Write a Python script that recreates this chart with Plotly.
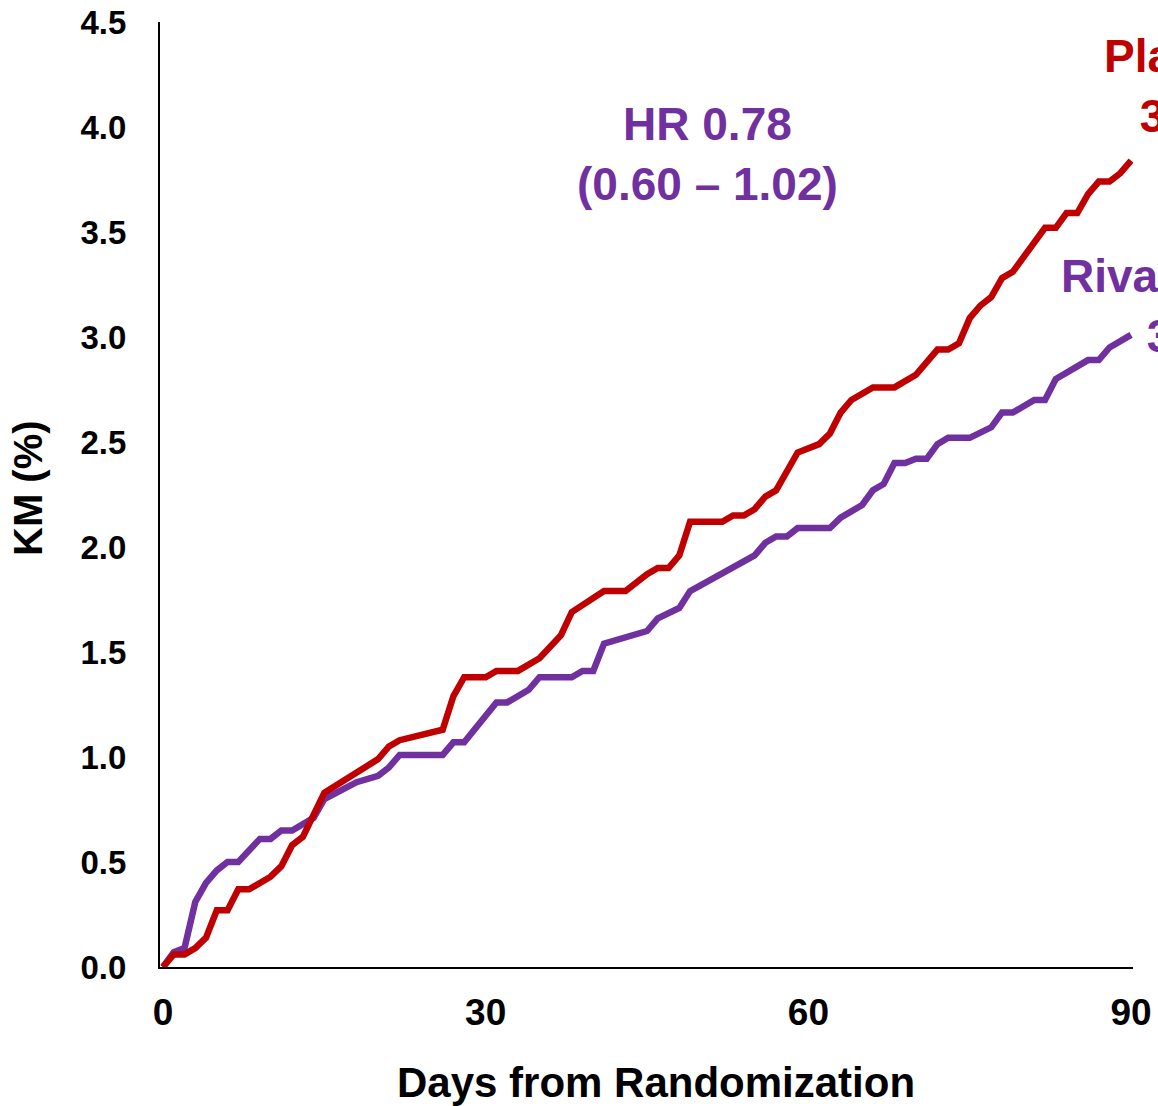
import plotly.graph_objects as go

# Kaplan-Meier curves (days from randomization, KM %)
placebo_days = [0, 1, 2, 3, 4, 5, 6, 7, 8, 10, 11, 12, 13, 15, 20, 21, 22, 26, 27, 28, 30, 31, 33,
                35, 37, 38, 41, 43, 45, 46, 47, 48, 49, 52, 53, 54, 55, 56, 57, 59, 61, 62, 63, 64,
                66, 68, 70, 72, 73, 74, 75, 76, 77, 78, 79, 80, 81, 82, 83, 84, 85, 86, 87, 88, 89, 90]
placebo_km = [0.0, 0.06, 0.06, 0.09, 0.14, 0.27, 0.27, 0.37, 0.37, 0.43, 0.48, 0.58, 0.62, 0.83,
              0.99, 1.05, 1.08, 1.13, 1.29, 1.38, 1.38, 1.41, 1.41, 1.47, 1.58, 1.69, 1.79, 1.79,
              1.87, 1.90, 1.90, 1.96, 2.12, 2.12, 2.15, 2.15, 2.18, 2.24, 2.27, 2.45, 2.49, 2.54,
              2.64, 2.70, 2.76, 2.76, 2.82, 2.94, 2.94, 2.97, 3.09, 3.15, 3.19, 3.28, 3.31, 3.38,
              3.46, 3.52, 3.52, 3.59, 3.59, 3.68, 3.74, 3.74, 3.78, 3.84]

riva_days = [0, 1, 2, 3, 4, 5, 6, 7, 9, 10, 11, 12, 14, 15, 18, 20, 21, 22, 26, 27, 28, 31, 32, 34,
             35, 38, 39, 40, 41, 45, 46, 48, 49, 55, 56, 57, 58, 59, 62, 63, 65, 66, 67, 68, 69, 70,
             71, 72, 73, 75, 77, 78, 79, 81, 82, 83, 86, 87, 88, 90]
riva_km = [0.0, 0.07, 0.09, 0.31, 0.40, 0.46, 0.50, 0.50, 0.61, 0.61, 0.65, 0.65, 0.71, 0.80, 0.88,
           0.91, 0.95, 1.01, 1.01, 1.07, 1.07, 1.26, 1.26, 1.32, 1.38, 1.38, 1.41, 1.41, 1.54, 1.60,
           1.66, 1.71, 1.79, 1.96, 2.02, 2.05, 2.05, 2.09, 2.09, 2.14, 2.20, 2.27, 2.30, 2.40, 2.40,
           2.42, 2.42, 2.49, 2.52, 2.52, 2.57, 2.64, 2.64, 2.70, 2.70, 2.80, 2.89, 2.89, 2.95, 3.01]

x_ticks = [0, 30, 60, 90]
y_ticks = [0.0, 0.5, 1.0, 1.5, 2.0, 2.5, 3.0, 3.5, 4.0, 4.5]

RED = "#C00000"
PURPLE = "#7030A0"
FONT = "Liberation Sans, Arial, sans-serif"

fig = go.Figure()
fig.add_trace(go.Scatter(x=riva_days, y=riva_km, mode="lines", name="Rivaroxaban",
                         line=dict(color=PURPLE, width=6.5), cliponaxis=False))
fig.add_trace(go.Scatter(x=placebo_days, y=placebo_km, mode="lines", name="Placebo",
                         line=dict(color=RED, width=6.5), cliponaxis=False))

fig.update_layout(
    width=1158, height=1106,
    margin=dict(l=160, r=25, t=22, b=139, autoexpand=False),
    paper_bgcolor="white", plot_bgcolor="white",
    showlegend=False,
    font=dict(family=FONT, color="black"),
    xaxis=dict(range=[-0.28, 90.18], tickvals=x_ticks, ticktext=[str(v) for v in x_ticks],
               showgrid=False, zeroline=False, showline=True, linecolor="black", linewidth=2,
               ticks="", tickfont=dict(size=37, family=FONT, color="black", weight="bold"),
               ticklabelstandoff=12, automargin=False),
    yaxis=dict(range=[0, 4.5], tickvals=y_ticks, ticktext=[f"{v:.1f}" for v in y_ticks],
               showgrid=False, zeroline=False, showline=True, linecolor="black", linewidth=2,
               ticks="", tickfont=dict(size=33, family=FONT, color="black", weight="bold"),
               ticklabelstandoff=25, automargin=False),
)

annotations = [
    dict(text="<b>Days from Randomization</b>", xref="paper", yref="paper", x=0.51, y=0,
         yshift=-115, xanchor="center", yanchor="middle", showarrow=False,
         font=dict(size=42, family=FONT, color="black")),
    dict(text="<b>KM (%)</b>", xref="paper", yref="paper", x=0, y=(967 - 488) / 945,
         xshift=-132, xanchor="center", yanchor="middle", textangle=-90, showarrow=False,
         font=dict(size=40, family=FONT, color="black")),
    dict(text="<b>HR 0.78<br>(0.60 – 1.02)</b>", xref="paper", yref="paper",
         x=(707 - 160) / 973, y=(967 - 154) / 945, xanchor="center", yanchor="middle",
         showarrow=False, font=dict(size=46, family=FONT, color=PURPLE)),
    dict(text="<b>Placebo<br>3.8%</b>", xref="paper", yref="paper",
         x=(1192 - 160) / 973, y=(967 - 86) / 945, xanchor="center", yanchor="middle",
         showarrow=False, font=dict(size=46, family=FONT, color=RED)),
    dict(text="<b>Rivaroxaban<br>3.0%</b>", xref="paper", yref="paper",
         x=(1199 - 160) / 973, y=(967 - 306) / 945, xanchor="center", yanchor="middle",
         showarrow=False, font=dict(size=46, family=FONT, color=PURPLE)),
]
fig.update_layout(annotations=annotations)

fig.write_html("out.html")
